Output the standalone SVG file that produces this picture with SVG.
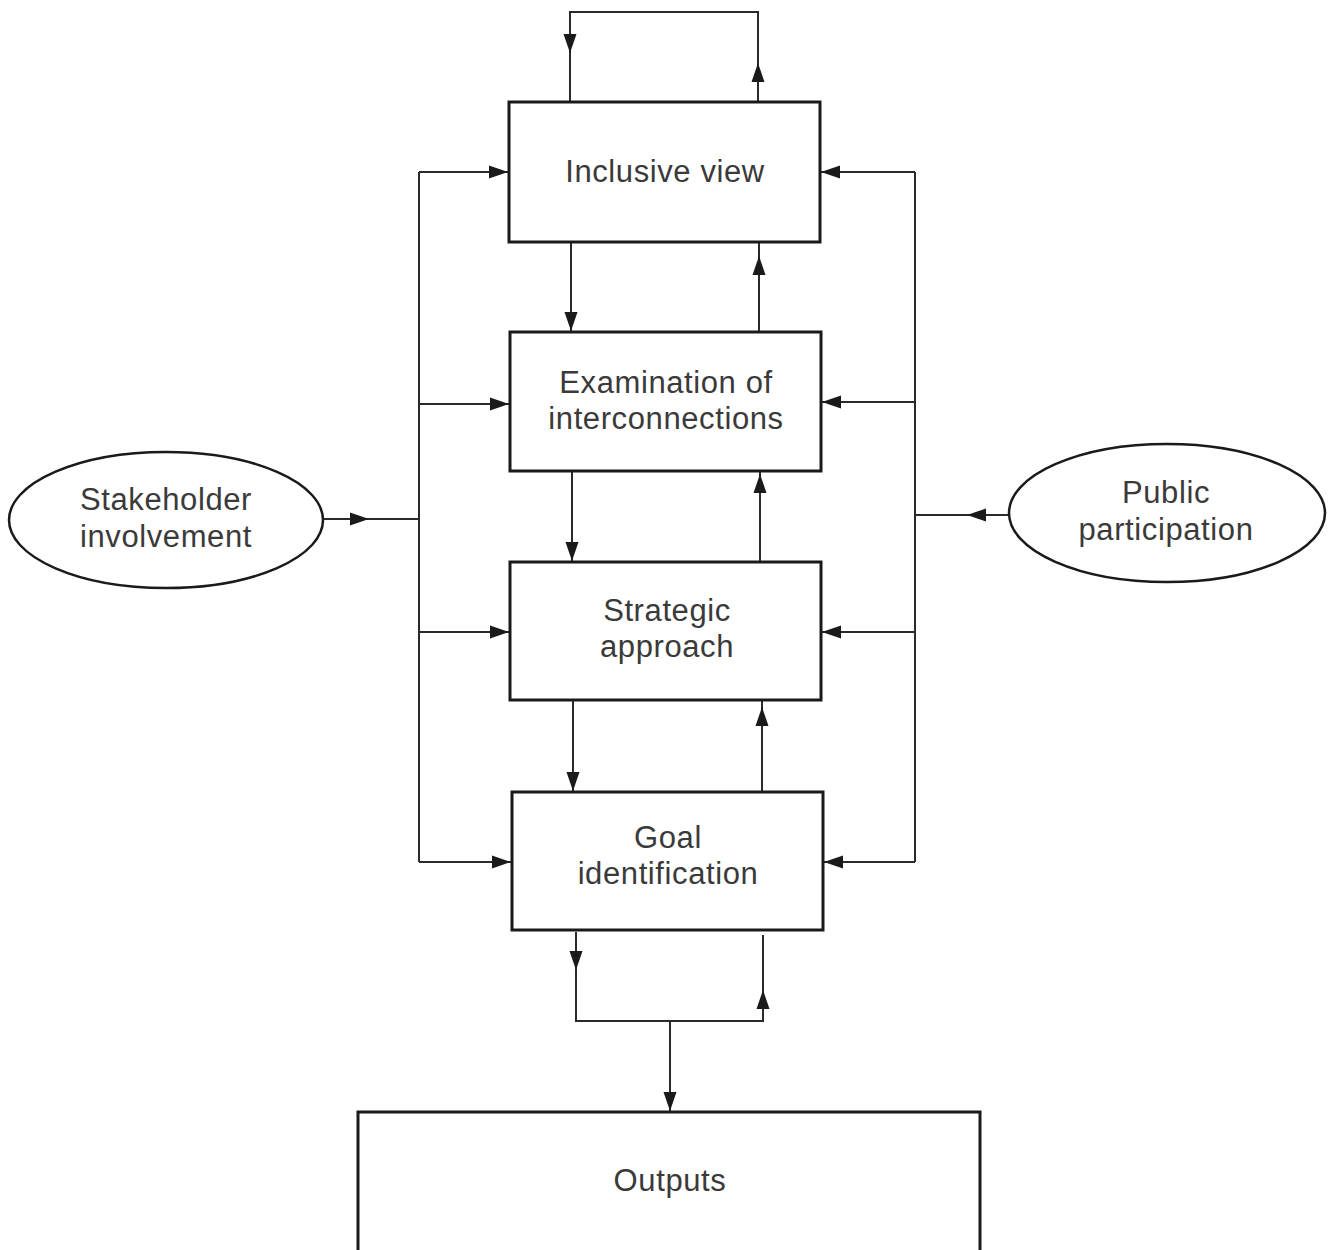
<svg xmlns="http://www.w3.org/2000/svg" width="1334" height="1250" viewBox="0 0 1334 1250">
<style>
.box{fill:#fff;stroke:#1a1a1a;stroke-width:3}
.ell{fill:#fff;stroke:#1a1a1a;stroke-width:2.5}
.ln{fill:none;stroke:#2a2a2a;stroke-width:2}
.t{font-family:"Liberation Sans",Arial,sans-serif;font-size:31px;fill:#3a3a3a;text-anchor:middle;letter-spacing:0.6px}
</style>
<defs>
<marker id="arr" markerUnits="userSpaceOnUse" markerWidth="20" markerHeight="14" refX="19" refY="7" orient="auto">
<path d="M0,0.5 L19,7 L0,13.5 z" fill="#1a1a1a"/>
</marker>
</defs>
<rect width="1334" height="1250" fill="#fff"/>
<g id="connectors">
<path class="ln" d="M570,102 V12 H758 V102"/>
<path class="ln" d="M570,35 V53" marker-end="url(#arr)"/>
<path class="ln" d="M758,82 V63" marker-end="url(#arr)"/>
<path class="ln" d="M571,242 V331" marker-end="url(#arr)"/>
<path class="ln" d="M759,332 V242"/>
<path class="ln" d="M759,276 V256" marker-end="url(#arr)"/>
<path class="ln" d="M572,471 V561" marker-end="url(#arr)"/>
<path class="ln" d="M760,562 V471"/>
<path class="ln" d="M760,494 V474" marker-end="url(#arr)"/>
<path class="ln" d="M573,700 V791" marker-end="url(#arr)"/>
<path class="ln" d="M762,792 V700"/>
<path class="ln" d="M762,727 V707" marker-end="url(#arr)"/>
<path class="ln" d="M419,172 V862"/>
<path class="ln" d="M419,172 H508" marker-end="url(#arr)"/>
<path class="ln" d="M419,404 H509" marker-end="url(#arr)"/>
<path class="ln" d="M419,632 H509" marker-end="url(#arr)"/>
<path class="ln" d="M419,862 H511" marker-end="url(#arr)"/>
<path class="ln" d="M323,519 H419"/>
<path class="ln" d="M345,519 H369" marker-end="url(#arr)"/>
<path class="ln" d="M915,172 V862"/>
<path class="ln" d="M915,172 H821" marker-end="url(#arr)"/>
<path class="ln" d="M915,402 H822" marker-end="url(#arr)"/>
<path class="ln" d="M915,632 H822" marker-end="url(#arr)"/>
<path class="ln" d="M915,862 H824" marker-end="url(#arr)"/>
<path class="ln" d="M1008,515 H915"/>
<path class="ln" d="M990,515 H967" marker-end="url(#arr)"/>
<path class="ln" d="M576,932 V1021 H763 V935"/>
<path class="ln" d="M576,950 V970" marker-end="url(#arr)"/>
<path class="ln" d="M763,1010 V990" marker-end="url(#arr)"/>
<path class="ln" d="M670,1021 V1111" marker-end="url(#arr)"/>
</g>
<g id="inclusive-view">
<rect class="box" x="509" y="102" width="311" height="140"/>
<text class="t" x="665" y="182">Inclusive view</text>
</g>
<g id="examination">
<rect class="box" x="510" y="332" width="311" height="139"/>
<text class="t" x="666" y="393">Examination of</text>
<text class="t" x="666" y="429">interconnections</text>
</g>
<g id="strategic">
<rect class="box" x="510" y="562" width="311" height="138"/>
<text class="t" x="667" y="621">Strategic</text>
<text class="t" x="667" y="657">approach</text>
</g>
<g id="goal">
<rect class="box" x="512" y="792" width="311" height="138"/>
<text class="t" x="668" y="848">Goal</text>
<text class="t" x="668" y="884">identification</text>
</g>
<g id="outputs">
<rect class="box" x="358" y="1112" width="622" height="140"/>
<text class="t" x="670" y="1191">Outputs</text>
</g>
<g id="stakeholder">
<ellipse class="ell" cx="166" cy="520" rx="157" ry="68"/>
<text class="t" x="166" y="510">Stakeholder</text>
<text class="t" x="166" y="547">involvement</text>
</g>
<g id="public">
<ellipse class="ell" cx="1167" cy="513" rx="158" ry="69"/>
<text class="t" x="1166" y="503">Public</text>
<text class="t" x="1166" y="540">participation</text>
</g>
</svg>
